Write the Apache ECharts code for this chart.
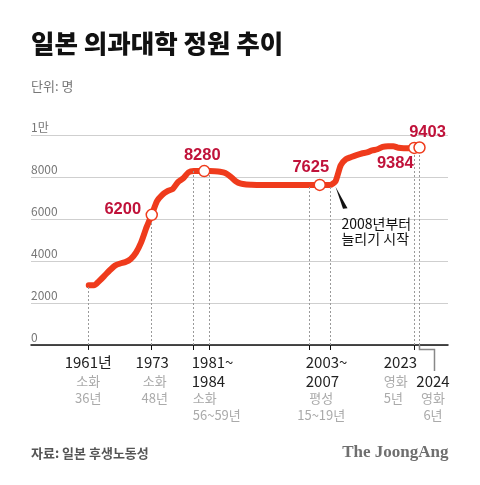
<!DOCTYPE html>
<html>
<head>
<meta charset="utf-8">
<script src="https://cdn.jsdelivr.net/npm/echarts@6/dist/echarts.min.js"></script>
<style>
html,body{margin:0;padding:0;background:#fff;}
#c{width:480px;height:485px;}
</style>
</head>
<body>
<div id="c"></div>
<script>
// ---- data ----
const years = [1961,1962,1963,1964,1965,1966,1967,1968,1969,1970,
  1971,1972,1973,1974,1975,1976,1977,1978,1979,1980,
  1981,1982,1983,1984,1985,1986,1987,1988,1989,1990,
  1991,1992,1993,1994,1995,1996,1997,1998,1999,2000,
  2001,2002,2003,2004,2005,2006,2007,2008,2009,2010,
  2011,2012,2013,2014,2015,2016,2017,2018,2019,2020,
  2021,2022,2023,2024];
const quota = [2840,2840,3050,3300,3560,3780,3880,3950,4100,4400,
  4900,5600,6200,6850,7150,7330,7430,7760,7940,8220,
  8280,8280,8280,8280,8270,8250,8190,8020,7800,7680,
  7640,7630,7625,7625,7625,7625,7625,7625,7625,7625,
  7625,7625,7625,7625,7625,7625,7625,7793,8560,8846,
  8950,9041,9120,9170,9262,9320,9440,9470,9470,9390,
  9370,9374,9384,9403];
const highlightYears = [1973, 1983, 2005, 2023, 2024];
const highlightValues = [6200, 8280, 7625, 9384, 9403];
const guideYears = [1961, 1973, 1981, 1984, 2003, 2007, 2023, 2024];
const guideValues = [2840, 6200, 8280, 8280, 7625, 7625, 9384, 9403];
const yTicks = [0, 2000, 4000, 6000, 8000, 10000];
const yTickLabels = ['0', '2000', '4000', '6000', '8000', '1만'];
const periodLabels = {
  p1961: ['1961년', '소화', '36년'],
  p1973: ['1973', '소화', '48년'],
  p1981: ['1981~', '1984', '소화', '56~59년'],
  p2003: ['2003~', '2007', '평성', '15~19년'],
  p2023: ['2023', '영화', '5년'],
  p2024: ['2024', '영화', '6년']
};
const titleText = '일본 의과대학 정원 추이';
const unitText = '단위: 명';
const sourceText = '자료: 일본 후생노동성';
const brandText = 'The JoongAng';
const noteLines = ['2008년부터', '늘리기 시작'];
const noteYear = 2008;
const noteValue = 7540;

// ---- styles ----
const LINE = '#ef3b1c';
const LABEL = '#c0123a';
const KR = "'Noto Sans CJK KR', 'Noto Sans', sans-serif";
const NUM = "'Liberation Sans', Arial, sans-serif";

const chart = echarts.init(document.getElementById('c'), null, {renderer: 'canvas'});

const labelOffsets = [[-29, -5], [-2, -16], [-9, -17], [-19, 16], [8, -15]];

const option = {
  animation: false,
  backgroundColor: '#fff',
  grid: {left: 31, right: 32, top: 135, bottom: 140, containLabel: false},
  xAxis: {
    type: 'value', min: 1950, max: 2029.43,
    axisLine: {show: true, onZero: false, lineStyle: {color: '#111', width: 1.5}},
    axisTick: {show: true, customValues: guideYears, length: 5, inside: false, lineStyle: {color: '#111', width: 1}},
    axisLabel: {show: false},
    splitLine: {show: false}
  },
  yAxis: {
    type: 'value', min: 0, max: 10000, interval: 2000,
    axisLine: {show: false}, axisTick: {show: false},
    axisLabel: {
      inside: true, margin: 0, align: 'left', verticalAlign: 'bottom',
      color: '#777', fontSize: 12, fontFamily: KR, padding: [0, 0, 2, 0],
      formatter: function (v) { const i = yTicks.indexOf(v); return i >= 0 ? yTickLabels[i] : ''; }
    },
    splitLine: {show: true, lineStyle: {color: '#cfcfcf', width: 1}}
  },
  series: [
    {
      type: 'line', z: 1, data: [], symbol: 'none', silent: true,
      markLine: {
        silent: true, symbol: 'none', label: {show: false},
        lineStyle: {color: '#9a9a9a', width: 1, type: [2, 2]},
        data: guideYears.map((y, i) => [{coord: [y, 0]}, {coord: [y, guideValues[i]]}])
      }
    },
    {
      type: 'line', z: 3, smooth: 0.2, symbol: 'none',
      lineStyle: {color: LINE, width: 6, cap: 'round', join: 'round'},
      data: years.map((y, i) => [y, quota[i]])
    },
    {
      type: 'scatter', z: 5, symbol: 'circle', symbolSize: 11,
      itemStyle: {color: '#fff', borderColor: LINE, borderWidth: 1.5, opacity: 1},
      data: highlightYears.map((y, i) => ({
        value: [y, highlightValues[i]],
        label: {
          show: true, position: 'inside', offset: labelOffsets[i],
          formatter: String(highlightValues[i]),
          color: LABEL, opacity: 1, textBorderWidth: 0,
          fontSize: 16.5, fontWeight: 'bold', fontFamily: NUM
        }
      }))
    }
  ]
};
chart.setOption(option);

function px(x, y) { return chart.convertToPixel({gridIndex: 0}, [x, y]); }

const g = [];
function txt(t, x, y, size, color, align, weight, family) {
  g.push({type: 'text', x: x, y: y, silent: true, z: 100,
    style: {text: t, fontSize: size, fontFamily: family || KR, fontWeight: weight || 'normal',
      fill: color, align: align || 'left', verticalAlign: 'middle'}});
}

// title / unit / footer
txt(titleText, 31, 43.5, 25.5, '#111', 'left', 900);
txt(unitText, 31, 86, 13, '#777', 'left');
txt(sourceText, 31, 453, 13, '#555', 'left', 'bold');
txt(brandText, 448.5, 453, 17, '#6f6f6f', 'right', 'bold', "'Liberation Serif', 'DejaVu Serif', serif");

// axis period labels
const R1 = 362, R2 = 381, R3 = 398, R4 = 415;
const BLK = '#222', GRY = '#aaa';
const x1961 = px(1961, 0)[0], x1973 = px(1973, 0)[0], x1981 = px(1981, 0)[0];
const x2003 = px(2003, 0)[0], x2007 = px(2007, 0)[0], x2023 = px(2023, 0)[0], x2024 = px(2024, 0)[0];
const axisY = px(1961, 0)[1];

let L = periodLabels.p1961;
txt(L[0], x1961 - 0.5, R1, 15, BLK, 'center');
txt(L[1], x1961 - 0.5, R2, 13, GRY, 'center');
txt(L[2], x1961 - 0.5, R3, 13, GRY, 'center');

L = periodLabels.p1973;
txt(L[0], x1973 + 0.5, R1, 15, BLK, 'center');
txt(L[1], x1973 + 3, R2, 13, GRY, 'center');
txt(L[2], x1973 + 3, R3, 13, GRY, 'center');

L = periodLabels.p1981;
txt(L[0], x1981 - 2, R1, 15, BLK, 'left');
txt(L[1], x1981 - 2, R2, 15, BLK, 'left');
txt(L[2], x1981 - 1, R3, 13, GRY, 'left');
txt(L[3], x1981 - 1, R4, 13, GRY, 'left');

L = periodLabels.p2003;
const mid03 = (x2003 + x2007) / 2;
txt(L[0], x2003 - 3.5, R1, 15, BLK, 'left');
txt(L[1], x2003 - 3.5, R2, 15, BLK, 'left');
txt(L[2], mid03 + 1.5, R3, 13, GRY, 'center');
txt(L[3], mid03 + 1.5, R4, 13, GRY, 'center');

L = periodLabels.p2023;
txt(L[0], x2023 - 30.5, R1, 15, BLK, 'left');
txt(L[1], x2023 - 30.5, R2, 13, GRY, 'left');
txt(L[2], x2023 - 30.5, R3, 13, GRY, 'left');

L = periodLabels.p2024;
txt(L[0], x2024 + 13.5, R2, 15, BLK, 'center');
txt(L[1], x2024 + 13.5, R3, 13, GRY, 'center');
txt(L[2], x2024 + 13.5, R4, 13, GRY, 'center');

// bracket for 2024
g.push({type: 'polyline', silent: true, z: 90,
  shape: {points: [[x2024, axisY], [x2024, axisY + 4.5], [x2024 + 15, axisY + 4.5], [x2024 + 15, axisY + 26]]},
  style: {stroke: '#888', lineWidth: 1.5, fill: null}});

// annotation wedge + text
const np = px(noteYear, noteValue);
g.push({type: 'polygon', silent: true, z: 90,
  shape: {points: [[np[0], np[1]], [np[0] + 7.5, np[1] + 22], [np[0] + 12, np[1] + 21.5]]},
  style: {fill: '#111'}});
txt(noteLines[0], np[0] + 6, np[1] + 37, 14, '#111', 'left');
txt(noteLines[1], np[0] + 6, np[1] + 52, 14, '#111', 'left');

chart.setOption({graphic: g});
</script>
</body>
</html>
